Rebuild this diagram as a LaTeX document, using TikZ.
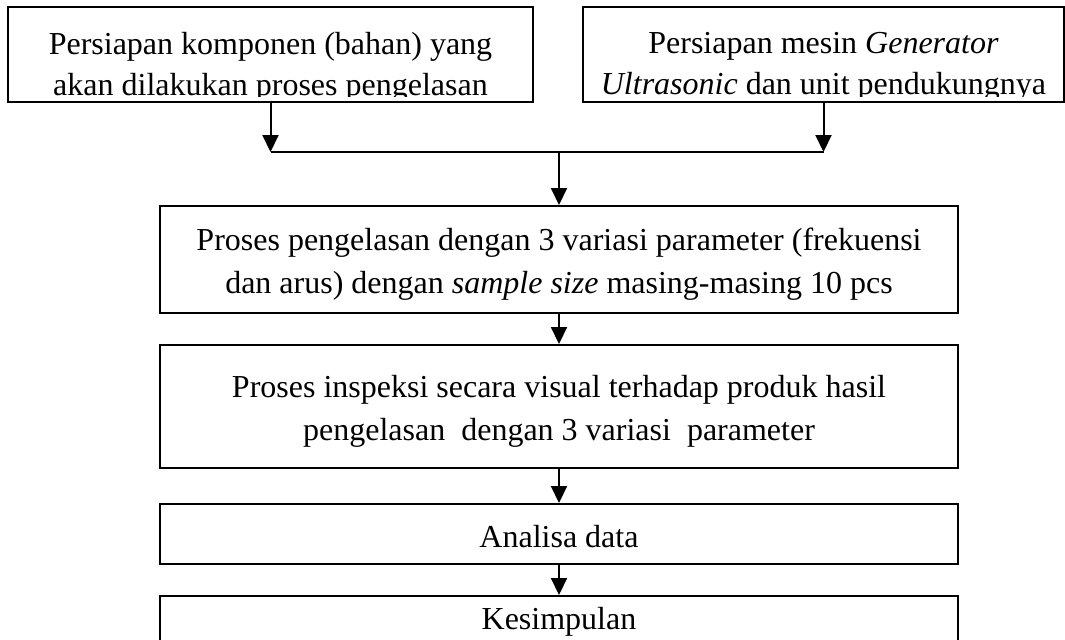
\documentclass[tikz,border=0pt]{standalone}
\usepackage{fontspec}
\setmainfont{Liberation Serif}
\usetikzlibrary{arrows.meta}

\begin{document}
\begin{tikzpicture}[x=0.5pt, y=-0.5pt, line width=1pt,
    main/.style = {draw, rectangle, inner sep=0pt, align=center, font=\fontsize{16}{21.5}\selectfont},
    txt/.style = {inner sep=0pt, align=center, font=\fontsize{16}{20.5}\selectfont},
    arr/.style = {-{Triangle[width=8pt, length=8.5pt]}}]
    \useasboundingbox (0,0) rectangle (1065,639);
    \clip (0,0) rectangle (1065,639);
    % top row
    \node[main, minimum width=262.5pt, minimum height=47.5pt] (1) at (270.5,54.5) {};
    \node[main, minimum width=240.5pt, minimum height=47.5pt] (2) at (823.5,54.5) {};
    \begin{scope}
        \clip (9,8) rectangle (1063,96);
        \node[txt, anchor=north] (t1) at (270.5,31) {Persiapan komponen (bahan) yang\\akan dilakukan proses pengelasan};
        \node[txt, anchor=north] (t2) at (823.5,31) {Persiapan mesin \textit{Generator}\\\textit{Ultrasonic} dan unit pendukungnya};
    \end{scope}
    \coordinate (j) at (559,152);
    % main column
    \node[main, minimum width=399pt, minimum height=53.5pt, text height=37pt, text depth=3.5pt] (3) at (559,259.5) {Proses pengelasan dengan 3 variasi parameter (frekuensi\\dan arus) dengan \textit{sample size} masing-masing 10 pcs};
    \node[main, minimum width=399pt, minimum height=61.5pt, text height=37pt, text depth=3.5pt] (4) at (559,406.5) {Proses inspeksi secara visual terhadap produk hasil\\pengelasan~ dengan 3 variasi~ parameter};
    \node[main, minimum width=399pt, minimum height=30pt, text height=14pt] (5) at (559,534) {Analisa data};
    \node[main, minimum width=399pt, minimum height=52pt, text depth=30pt] (6) at (559,648) {Kesimpulan};
    % arrows
    \draw[arr] (1.south) -- (1.south |- j);
    \draw[arr] (2.south) -- (2.south |- j);
    \draw (1.south |- j) -- (2.south |- j);
    \draw[arr] (j) -- (3);
    \draw[arr] (3) -- (4);
    \draw[arr] (4) -- (5);
    \draw[arr] (5) -- (6);
\end{tikzpicture}
\end{document}
